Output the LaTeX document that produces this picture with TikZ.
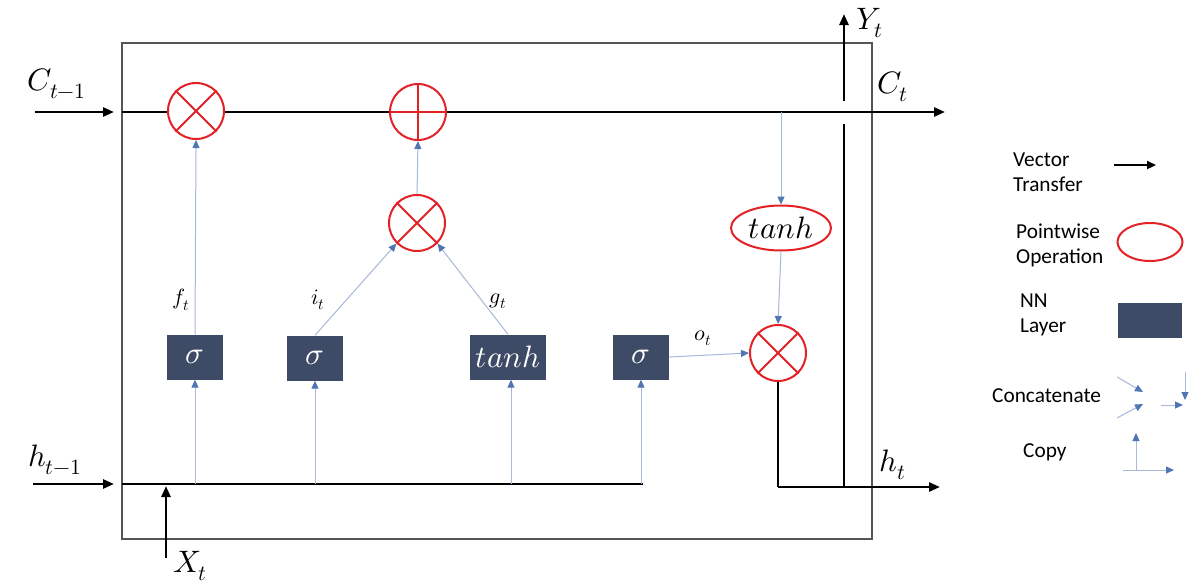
\documentclass[tikz,border=0pt]{standalone}
\usepackage{fontspec}
\usepackage{unicode-math}
\setmathfont{Latin Modern Math}
\newfontfamily\legendfont{Carlito}
\usetikzlibrary{arrows.meta,shapes.geometric}
\definecolor{opred}{HTML}{E32228}
\definecolor{nnbox}{HTML}{3E4B66}
\definecolor{bline}{HTML}{A7B8DA}
\definecolor{btip}{HTML}{4F76B3}
\definecolor{frame}{HTML}{555555}
\tikzset{
  vec/.style={line width=2.6pt, black},
  vecarrow/.style={vec, -{Triangle[length=11pt,width=9pt]}},
  flow/.style={line width=1pt, bline, -{Triangle[length=8pt,width=7pt,color=btip]}},
  op/.style={circle, draw=opred, line width=2pt, fill=white, minimum size=56pt, inner sep=0pt},
  oplines/.style={draw=opred, line width=1.8pt},
  nn/.style={rectangle, fill=nnbox, text=white, minimum width=56pt, minimum height=45pt, inner xsep=6pt, inner ysep=2pt,
    font=\fontsize{31}{36}\selectfont},
  biglabel/.style={font=\fontsize{31}{36}\selectfont, inner sep=0pt},
  smalllabel/.style={font=\fontsize{22}{26}\selectfont, inner sep=0pt},
  legtext/.style={font=\legendfont\fontsize{21.3}{25}\selectfont, align=left, inner sep=0pt, anchor=west},
}
\begin{document}
\begin{tikzpicture}[x=1pt,y=-1pt]
\useasboundingbox[fill=white] (0,0) rectangle (1189,584);

% frame
\node[draw=frame, line width=1.6pt, minimum width=750pt, minimum height=496pt, inner sep=0pt] (cell) at (497,291) {};

% coordinates
\coordinate (cin) at (35,112);
\coordinate (cinend) at (114,112);
\coordinate (cstart) at (122,112);
\coordinate (cout) at (945,112);
\coordinate (hin) at (33,484);
\coordinate (hinend) at (114,484);
\coordinate (hstart) at (122,484);
\coordinate (hend) at (643,484);
\coordinate (xin) at (166,558);
\coordinate (xend) at (166,486);
\coordinate (hcorner) at (778,487);
\coordinate (hout) at (940,487);
\coordinate (ybot) at (844,487);
\coordinate (ygap1) at (844,124);
\coordinate (ygap2) at (844,101);
\coordinate (ytop) at (844,14);
\coordinate (ctap) at (781,112);
\coordinate (hb1) at (195,484);
\coordinate (hb2) at (315,484);
\coordinate (hb3) at (511,484);
\coordinate (hb4) at (641,484);

% black vector lines
\draw[vecarrow] (cin) -- (cinend);
\draw[vecarrow] (cstart) -- (cout);
\draw[vecarrow] (hin) -- (hinend);
\draw[vec] (hstart) -- (hend);
\draw[vecarrow] (xin) -- (xend);
\draw[vec] (ybot) -- (ygap1);
\draw[vecarrow] (ygap2) -- (ytop);

% NN layers
\node[nn] (s1) at (195,357) {$\sigma$};
\node[nn] (s2) at (315,358) {$\sigma$};
\node[nn] (tl) at (508,357) {$tanh$};
\node[nn] (s4) at (641,357) {$\sigma$};

% pointwise ops
\node[op] (mf) at (196,111) {};
\node[op] (pl) at (418,112) {};
\node[op] (mi) at (417,223) {};
\node[ellipse, draw=opred, line width=2pt, fill=white, minimum width=100pt, minimum height=45pt, inner sep=0pt,
  font=\fontsize{31}{36}\selectfont] (th) at (781,228) {$tanh$};
\node[op] (mo) at (778,353) {};

\draw[oplines] (mf.45) -- (mf.225) (mf.135) -- (mf.-45);
\draw[oplines] (pl.north) -- (pl.south) (pl.west) -- (pl.east);
\draw[oplines] (mi.45) -- (mi.225) (mi.135) -- (mi.-45);
\draw[oplines] (mo.45) -- (mo.225) (mo.135) -- (mo.-45);

% h_t output
\draw[vec] (mo.south) -- (hcorner);
\draw[vecarrow] (hcorner) -- (hout);

% blue flows
\draw[flow] (hb1) -- (s1.south);
\draw[flow] (hb2) -- (s2.south);
\draw[flow] (hb3) -- (hb3 |- tl.south);
\draw[flow] (hb4) -- (s4.south);
\draw[flow] (s1.north) -- (mf.south);
\draw[flow] (s2.north) -- (mi.225);
\draw[flow] (tl.north) -- (mi.-45);
\draw[flow] (mi.north) -- (pl.south);
\draw[flow] (ctap) -- (th.north);
\draw[flow] (th.south) -- (mo.north);
\draw[flow] (s4.east) -- (mo.west);

% gate labels
\node[smalllabel] (lf) at (181,300) {$f_t$};
\node[smalllabel] (li) at (318,300) {$i_t$};
\node[smalllabel] (lg) at (498,301) {$g_t$};
\node[smalllabel] (lo) at (703,338) {$o_t$};

% main labels
\node[biglabel] (lc1) at (57,84) {$C_{t-1}$};
\node[biglabel] (lct) at (893,87) {$C_t$};
\node[biglabel] (lh1) at (55,460) {$h_{t-1}$};
\node[biglabel] (lht) at (893,465) {$h_t$};
\node[biglabel] (lx) at (190,566) {$X_t$};
\node[biglabel] (ly) at (870,23) {$Y_t$};

% legend
\node[legtext] (tv) at (1013,172) {Vector\\Transfer};
\coordinate (lv1) at (1114,165);
\coordinate (lv2) at (1156,165);
\draw[line width=2.2pt, -{Triangle[length=9pt,width=8pt]}] (lv1) -- (lv2);

\node[legtext] (tp) at (1016,245) {Pointwise\\Operation};
\node[ellipse, draw=opred, line width=2pt, fill=white, minimum width=65pt, minimum height=38pt, inner sep=0pt] (le) at (1150,242) {};

\node[legtext] (tn) at (1020,315) {NN\\Layer};
\node[rectangle, fill=nnbox, minimum width=64pt, minimum height=35pt, inner sep=0pt] (lb) at (1150,320) {};

\node[legtext] (tc) at (992,396) {Concatenate};
\coordinate (ca1) at (1117,377);
\coordinate (ca2) at (1143,392);
\coordinate (cb1) at (1117,418);
\coordinate (cb2) at (1143,404);
\coordinate (cc1) at (1161,405);
\coordinate (cc2) at (1183,405);
\coordinate (cd1) at (1185,372);
\coordinate (cd2) at (1185,400);
\draw[flow] (ca1) -- (ca2);
\draw[flow] (cb1) -- (cb2);
\draw[flow] (cc1) -- (cc2);
\draw[flow] (cd1) -- (cd2);

\node[legtext] (tcp) at (1023,452) {Copy};
\coordinate (cp0) at (1123,470);
\coordinate (cp1) at (1136,470);
\coordinate (cp2) at (1136,433);
\coordinate (cp3) at (1174,470);
\draw[flow] (cp1) -- (cp2);
\draw[flow] (cp0) -- (cp3);
\end{tikzpicture}
\end{document}
